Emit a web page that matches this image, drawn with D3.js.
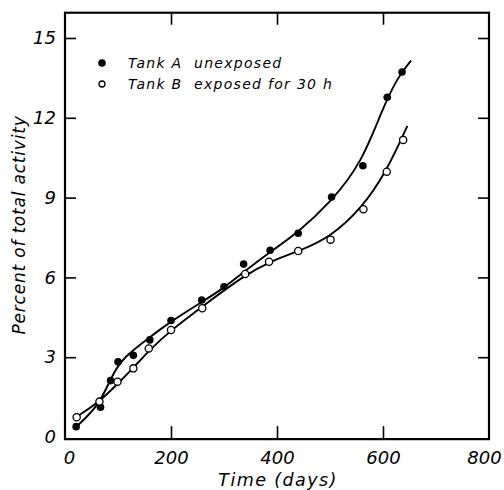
<!DOCTYPE html>
<html lang="en">
<head>
<meta charset="UTF-8">
<title>Percent of total activity</title>
<script src="https://cdn.jsdelivr.net/npm/d3@7"></script>
<style>
  body { margin: 0; background: #fff; }
  svg text { font-family: "DejaVu Sans", sans-serif; font-style: italic; fill: #000; }
</style>
</head>
<body>
<script>
// measured points
const tankADays = [21, 67, 86, 100, 129, 160, 200, 258, 300, 337, 387, 440, 503, 562, 608, 636];
const tankAPct  = [0.39, 1.12, 2.12, 2.83, 3.07, 3.65, 4.38, 5.15, 5.65, 6.5, 7.02, 7.66, 9.02, 10.2, 12.77, 13.72];
const tankBDays = [22, 65, 99, 129, 158, 200, 259, 340, 385, 440, 501, 563, 607, 638];
const tankBPct  = [0.74, 1.33, 2.08, 2.58, 3.33, 4.02, 4.84, 6.13, 6.59, 6.99, 7.42, 8.56, 9.97, 11.17];

// hand-drawn fit curves
const curveADays = [21, 65, 88, 110, 160, 200, 260, 300, 340, 390, 440, 500, 560, 600, 630, 653];
const curveAPct  = [0.38, 1.2, 2.3, 3.0, 3.75, 4.35, 5.1, 5.6, 6.25, 7.0, 7.7, 8.8, 10.3, 12.4, 13.6, 14.15];
const curveBDays = [22, 65, 100, 130, 160, 200, 260, 340, 390, 440, 500, 560, 607, 646];
const curveBPct  = [0.76, 1.32, 2.02, 2.62, 3.28, 4.02, 4.92, 6.1, 6.62, 6.98, 7.5, 8.6, 10.0, 11.7];

const xTicks = [0, 200, 400, 600, 800];
const yTicks = [0, 3, 6, 9, 12, 15];
const legendLabels = ['Tank A  unexposed', 'Tank B  exposed for 30 h'];

const width = 504, height = 490;

const x = d3.scaleLinear().domain([0, 800]).range([65, 489]);
const y = d3.scaleLinear().domain([0, 15]).range([437, 38]);

const svg = d3.select('body').append('svg')
  .attr('width', width)
  .attr('height', height);

// frame
const frameTop = y(15.95), frameBottom = y(-0.08);
svg.append('rect')
  .attr('x', x(0)).attr('y', frameTop)
  .attr('width', x(800) - x(0)).attr('height', frameBottom - frameTop)
  .attr('fill', 'none').attr('stroke', '#000').attr('stroke-width', 2.2);

// axes, ticks pointing in
const xAxis = svg.append('g')
  .attr('transform', `translate(0,${frameBottom})`)
  .call(d3.axisBottom(x).tickValues(xTicks).tickSize(-13).tickPadding(12).tickFormat(d3.format('d')));
const xTop = svg.append('g')
  .attr('transform', `translate(0,${frameTop})`)
  .call(d3.axisTop(x).tickValues(xTicks.slice(1, -1)).tickSize(-12).tickFormat(''));
const yAxis = svg.append('g')
  .attr('transform', `translate(${x(0)},0)`)
  .call(d3.axisLeft(y).tickValues(yTicks).tickSize(-11).tickPadding(9));
const yRight = svg.append('g')
  .attr('transform', `translate(${x(800)},0)`)
  .call(d3.axisRight(y).tickValues(yTicks.slice(1)).tickSize(-11).tickFormat(''));

[xAxis, xTop, yAxis, yRight].forEach(g => {
  g.select('.domain').remove();
  g.selectAll('line').attr('stroke', '#000').attr('stroke-width', 1.6);
});
xAxis.selectAll('.tick').filter(d => d === 0 || d === 800).select('line').remove();
xAxis.selectAll('text').attr('font-size', 18).attr('dy', '0.71em');
xAxis.selectAll('.tick').filter(d => d === 800).select('text').attr('dx', -5);
xAxis.selectAll('.tick').filter(d => d === 0).select('text').attr('dx', 4);
yAxis.selectAll('text').attr('font-size', 18);
yAxis.selectAll('.tick').filter(d => d === 0).select('line').remove();

// axis titles
svg.append('text')
  .attr('x', 278).attr('y', 486)
  .attr('text-anchor', 'middle')
  .attr('font-size', 17.5)
  .attr('letter-spacing', 1.4)
  .text('Time (days)');
svg.append('text')
  .attr('transform', `translate(25,${225}) rotate(-90)`)
  .attr('text-anchor', 'middle')
  .attr('font-size', 17)
  .attr('letter-spacing', 0.8)
  .text('Percent of total activity');

// fit curves
const line = d3.line().x(d => x(d[0])).y(d => y(d[1])).curve(d3.curveBasis);
svg.append('path')
  .datum(d3.zip(curveADays, curveAPct))
  .attr('d', line)
  .attr('fill', 'none').attr('stroke', '#000').attr('stroke-width', 1.9);
svg.append('path')
  .datum(d3.zip(curveBDays, curveBPct))
  .attr('d', line)
  .attr('fill', 'none').attr('stroke', '#000').attr('stroke-width', 1.9);

// points
svg.append('g').selectAll('circle')
  .data(d3.zip(tankADays, tankAPct))
  .join('circle')
  .attr('cx', d => x(d[0])).attr('cy', d => y(d[1]))
  .attr('r', 3.8).attr('fill', '#000');
svg.append('g').selectAll('circle')
  .data(d3.zip(tankBDays, tankBPct))
  .join('circle')
  .attr('cx', d => x(d[0])).attr('cy', d => y(d[1]))
  .attr('r', 3.6).attr('fill', '#fff').attr('stroke', '#000').attr('stroke-width', 1.3);

// legend
const legend = svg.append('g');
legend.append('circle').attr('cx', 102).attr('cy', 63).attr('r', 3.8).attr('fill', '#000');
legend.append('circle').attr('cx', 102).attr('cy', 84).attr('r', 3).attr('fill', '#fff')
  .attr('stroke', '#000').attr('stroke-width', 1.3);
legend.selectAll('text')
  .data(legendLabels)
  .join('text')
  .attr('x', 128).attr('y', (d, i) => 68 + i * 21)
  .attr('font-size', 14)
  .attr('letter-spacing', 1.3)
  .style('white-space', 'pre')
  .text(d => d);
</script>
</body>
</html>
